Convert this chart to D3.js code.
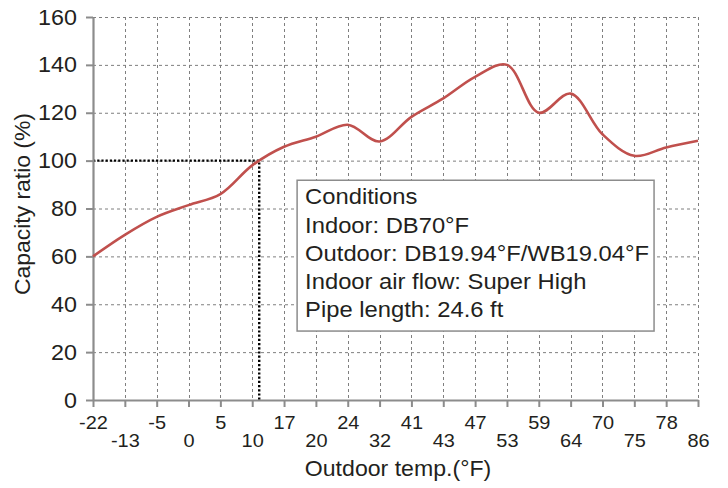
<!DOCTYPE html>
<html>
<head>
<meta charset="utf-8">
<script src="https://cdn.jsdelivr.net/npm/d3@7"></script>
<style>
  body { margin: 0; background: #fff; }
  text { font-family: "Liberation Sans", Arial, sans-serif; fill: #231f20; }
</style>
</head>
<body>
<div id="chart"></div>
<script>
// outdoor temperatures (°F) shown on the axis, one point each
var tempLabels = ["-22","-13","-5","0","5","10","17","20","24","32","41","43","47","53","59","64","70","75","78","86"];
// capacity ratio (%) at each temperature
var capacity = [60, 69, 76.5, 81.4, 86, 98, 105.8, 110, 115, 108, 118.3, 126, 135, 140, 120, 128, 111, 102, 105.5, 108.3];
var yTicks = [0, 20, 40, 60, 80, 100, 120, 140, 160];
// where the curve crosses 100 %
var crossPoint = [5.22, 100];
var conditions = [
  "Conditions",
  "Indoor: DB70°F",
  "Outdoor: DB19.94°F/WB19.04°F",
  "Indoor air flow: Super High",
  "Pipe length: 24.6 ft"
];

var canvasWidth = 728;
var canvasHeight = 488;
var margin = {top: 17, right: 30, bottom: 88, left: 93};
var width = canvasWidth - margin.left - margin.right;
var height = canvasHeight - margin.top - margin.bottom;

// the lettering in the original is a little wider than Arial
function stretch(sel, k) {
    sel.each(function() {
        var w = this.getComputedTextLength();
        d3.select(this)
            .attr("textLength", w * k)
            .attr("lengthAdjust", "spacingAndGlyphs");
    });
}

var svg = d3.select("#chart")
    .append("svg")
    .attr("width", canvasWidth)
    .attr("height", canvasHeight);

var g = svg.append("g")
    .attr("transform", "translate(" + margin.left + "," + margin.top + ")");

var x = d3.scaleLinear()
    .domain([0, tempLabels.length - 1])
    .range([0, width]);

var y = d3.scaleLinear()
    .domain([0, 160])
    .range([height, 0]);

// grid
g.append("g")
    .selectAll("line")
    .data(yTicks.slice(1))
    .join("line")
    .attr("x1", 0)
    .attr("x2", width)
    .attr("y1", function(d){ return y(d) + 0.5 })
    .attr("y2", function(d){ return y(d) + 0.5 })
    .attr("stroke", "#7f7f7f")
    .attr("stroke-width", 1)
    .attr("stroke-dasharray", "3,3");

g.append("g")
    .selectAll("line")
    .data(d3.range(1, tempLabels.length))
    .join("line")
    .attr("x1", function(d){ return Math.round(x(d)) + 0.5 })
    .attr("x2", function(d){ return Math.round(x(d)) + 0.5 })
    .attr("y1", 0)
    .attr("y2", height)
    .attr("stroke", "#7f7f7f")
    .attr("stroke-width", 1)
    .attr("stroke-dasharray", "3,3");

// reference dotted lines
g.append("path")
    .attr("d", "M0," + y(crossPoint[1]) + "H" + x(crossPoint[0]) + "V" + height)
    .attr("fill", "none")
    .attr("stroke", "#000")
    .attr("stroke-width", 2.4)
    .attr("stroke-dasharray", "2.2,2");

// axes
var xAxis = g.append("g")
    .attr("transform", "translate(0," + height + ")")
    .call(d3.axisBottom(x)
        .tickValues(d3.range(tempLabels.length))
        .tickFormat(function(d){ return tempLabels[d] })
        .tickSize(7)
        .tickSizeOuter(0));

xAxis.select(".domain").attr("stroke", "#8c8c8c").attr("stroke-width", 2.2);
xAxis.selectAll(".tick line").attr("stroke", "#8c8c8c").attr("stroke-width", 2);
xAxis.selectAll(".tick text")
    .style("font-size", "19px")
    .attr("fill", "#231f20")
    .attr("y", function(d){ return d % 2 === 0 ? 16 : 34 })
    .attr("dy", "0.71em")
    .call(stretch, 1.05);

var yAxis = g.append("g")
    .call(d3.axisLeft(y)
        .tickValues(yTicks)
        .tickSize(7)
        .tickSizeOuter(0));

yAxis.select(".domain").attr("stroke", "#8c8c8c").attr("stroke-width", 2.2);
yAxis.selectAll(".tick line").attr("stroke", "#8c8c8c").attr("stroke-width", 2);
yAxis.selectAll(".tick text")
    .style("font-size", "22px")
    .attr("fill", "#231f20")
    .attr("x", -16)
    .call(stretch, 1.06);

// curve
var line = d3.line()
    .x(function(d, i){ return x(i) })
    .y(function(d){ return y(d) })
    .curve(d3.curveCatmullRom.alpha(0.5));

g.append("path")
    .datum(capacity)
    .attr("d", line)
    .attr("fill", "none")
    .attr("stroke", "#c0504d")
    .attr("stroke-width", 2.6);

// conditions box
var box = g.append("g")
    .attr("transform", "translate(" + x(6.41) + "," + y(91.8) + ")");

box.append("rect")
    .attr("width", x(17.62) - x(6.41))
    .attr("height", y(28.8) - y(91.8))
    .attr("fill", "#fff")
    .attr("stroke", "#8c8c8c")
    .attr("stroke-width", 1.5);

box.selectAll("text")
    .data(conditions)
    .join("text")
    .attr("x", 8)
    .attr("y", function(d, i){ return 24 + i * 28.3 })
    .style("font-size", "22px")
    .text(function(d){ return d })
    .call(stretch, 1.08);

// axis titles
svg.append("text")
    .attr("x", 398)
    .attr("y", 476)
    .attr("text-anchor", "middle")
    .style("font-size", "22px")
    .text("Outdoor temp.(°F)")
    .call(stretch, 1.05);

svg.append("text")
    .attr("transform", "translate(30,204) rotate(-90)")
    .attr("text-anchor", "middle")
    .style("font-size", "22px")
    .text("Capacity ratio (%)")
    .call(stretch, 1.04);
</script>
</body>
</html>
